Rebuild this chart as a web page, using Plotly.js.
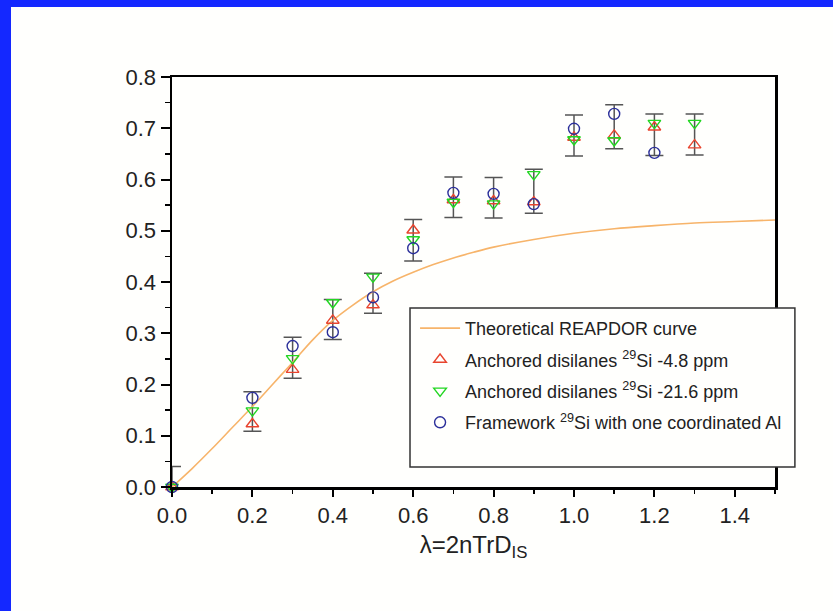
<!DOCTYPE html>
<html>
<head>
<meta charset="utf-8">
<script src="https://cdn.plot.ly/plotly-3.0.1.min.js"></script>
<style>
  html, body { margin: 0; padding: 0; }
  body { width: 833px; height: 611px; background: #1428ff; position: relative; overflow: hidden; }
  #chart { position: absolute; left: 11px; top: 7px; width: 822px; height: 604px; background: #fffffd; }
</style>
</head>
<body>
<div id="chart"></div>
<script>
// Theoretical REAPDOR curve
const curveX = [0, 0.05, 0.1, 0.15, 0.2, 0.25, 0.3, 0.35, 0.4, 0.45, 0.5, 0.55, 0.6, 0.65, 0.7, 0.75, 0.8, 0.9, 1.0, 1.1, 1.2, 1.3, 1.4, 1.5];
const curveY = [0, 0.036, 0.075, 0.116, 0.157, 0.2, 0.243, 0.287, 0.325, 0.355, 0.381, 0.402, 0.419, 0.434, 0.447, 0.458, 0.468, 0.483, 0.495, 0.504, 0.510, 0.515, 0.518, 0.521];

// Experimental points
const lambdaAll = [0, 0.2, 0.3, 0.4, 0.5, 0.6, 0.7, 0.8, 0.9, 1.0, 1.1, 1.2, 1.3];
const red48   = [0, 0.123, 0.229, 0.325, 0.355, 0.501, 0.560, 0.558, 0.556, 0.682, 0.686, 0.702, 0.667];
const green216 = [0, 0.149, 0.251, 0.360, 0.410, 0.483, 0.556, 0.553, 0.610, 0.678, 0.676, 0.710, 0.710];
const lambdaBlue = [0, 0.2, 0.3, 0.4, 0.5, 0.6, 0.7, 0.8, 0.9, 1.0, 1.1, 1.2];
const blueFw  = [0, 0.174, 0.275, 0.302, 0.370, 0.466, 0.574, 0.572, 0.552, 0.699, 0.728, 0.652];

// Error bar ranges (gray bars)
const errLow  = [-0.04, 0.109, 0.212, 0.288, 0.339, 0.441, 0.526, 0.525, 0.534, 0.646, 0.660, 0.647, 0.648];
const errHigh = [0.04, 0.186, 0.292, 0.366, 0.417, 0.522, 0.605, 0.604, 0.620, 0.726, 0.746, 0.728, 0.728];

const errMid = errLow.map((v, i) => (v + errHigh[i]) / 2);
const errHalf = errLow.map((v, i) => (errHigh[i] - v) / 2);

const FONT = 'Arial, "Liberation Sans", sans-serif';

const traces = [
  {
    x: lambdaAll, y: errMid, mode: 'markers', type: 'scatter',
    marker: { opacity: 0, size: 1 }, showlegend: false, hoverinfo: 'skip', cliponaxis: true,
    error_y: { type: 'data', array: errHalf, visible: true, color: '#555555', thickness: 1.5, width: 9 }
  },
  {
    x: curveX, y: curveY, mode: 'lines', type: 'scatter', line: { color: '#f7b46a', width: 1.6, shape: 'spline' },
    name: 'Theoretical REAPDOR curve', legendgroup: 'a'
  },
  {
    x: lambdaAll, y: red48, mode: 'markers', type: 'scatter', cliponaxis: false,
    marker: { symbol: 'triangle-up-open', size: 11, color: '#e8442e', line: { width: 1.4 } },
    name: 'Anchored disilanes <sup>29</sup>Si -4.8 ppm', legendgroup: 'b'
  },
  {
    x: lambdaAll, y: green216, mode: 'markers', type: 'scatter', cliponaxis: false,
    marker: { symbol: 'triangle-down-open', size: 11, color: '#22d622', line: { width: 1.4 } },
    name: 'Anchored disilanes <sup>29</sup>Si -21.6 ppm', legendgroup: 'c'
  },
  {
    x: lambdaBlue, y: blueFw, mode: 'markers', type: 'scatter', cliponaxis: false,
    marker: { symbol: 'circle-open', size: 11, color: '#2b2f9a', line: { width: 1.4 } },
    name: 'Framework <sup>29</sup>Si with one coordinated Al', legendgroup: 'd'
  }
];

const layout = {
  width: 822, height: 604,
  margin: { l: 161, r: 58, t: 70, b: 124 },
  paper_bgcolor: '#fffffd', plot_bgcolor: '#fffffd',
  font: { family: FONT, color: '#222222' },
  showlegend: true,
  legend: {
    x: 1.02, y: 0.432, xanchor: 'right', yanchor: 'top',
    bgcolor: 'rgba(0,0,0,0)', borderwidth: 0,
    font: { family: FONT, size: 18, color: '#222222' },
    traceorder: 'grouped', tracegroupgap: 5, itemwidth: 40
  },
  xaxis: {
    range: [0, 1.5], tickmode: 'linear', tick0: 0, dtick: 0.2, tickformat: '.1f',
    showgrid: false, zeroline: false,
    showline: true, linecolor: '#000', linewidth: 2.5, mirror: true,
    ticks: 'outside', ticklen: 7, tickwidth: 2, tickcolor: '#000',
    tickfont: { family: FONT, size: 22, color: '#222222' },
    minor: { dtick: 0.1, ticklen: 4, tickwidth: 1.5, tickcolor: '#000', showgrid: false, ticks: 'outside' },
    title: { text: 'λ=2nTrD<sub>IS</sub>', font: { family: FONT, size: 24, color: '#222222' }, standoff: 10 }
  },
  yaxis: {
    range: [0, 0.8], tickmode: 'linear', tick0: 0, dtick: 0.1, tickformat: '.1f',
    showgrid: false, zeroline: false,
    showline: true, linecolor: '#000', linewidth: 2.5, mirror: true,
    ticks: 'outside', ticklen: 9, tickwidth: 2, tickcolor: '#000',
    tickfont: { family: FONT, size: 22, color: '#222222' },
    minor: { dtick: 0.05, ticklen: 5, tickwidth: 1.5, tickcolor: '#000', showgrid: false, ticks: 'outside' }
  },
  shapes: [
    { type: 'rect', xref: 'paper', yref: 'paper', x0: 0.3947, x1: 1.033, y0: 0.0488, y1: 0.4366,
      line: { color: '#333333', width: 1.5 }, fillcolor: '#fffffd', layer: 'above' }
  ]
};

Plotly.newPlot('chart', traces, layout, { displayModeBar: false, staticPlot: true });
</script>
</body>
</html>
